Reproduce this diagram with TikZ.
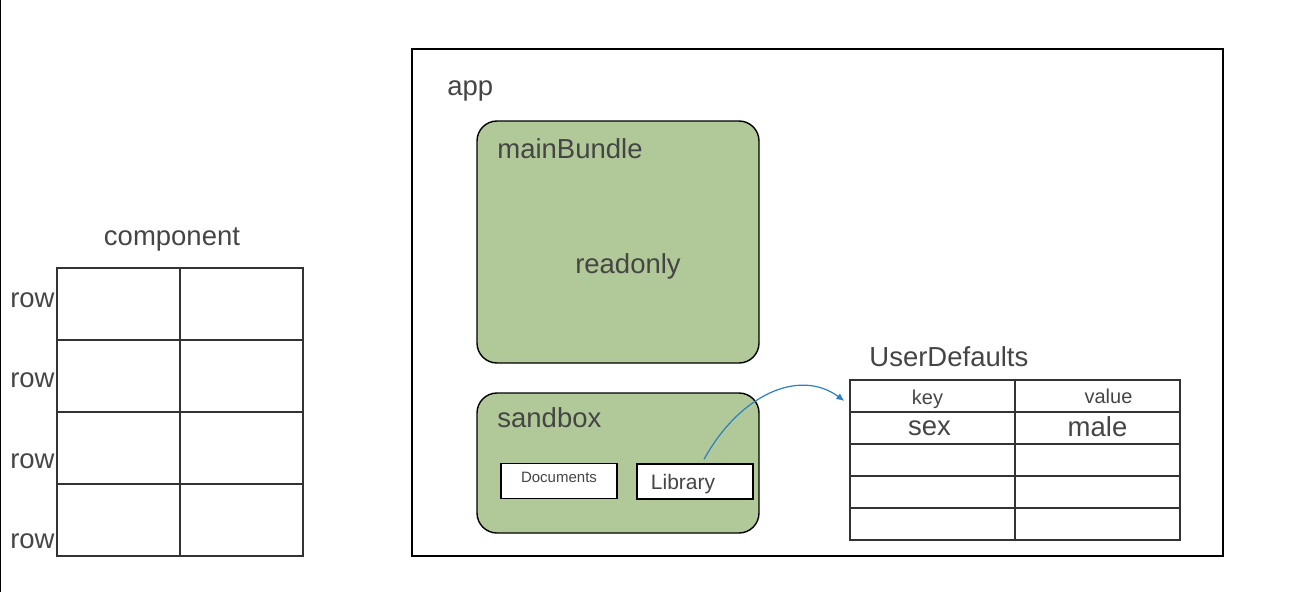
\documentclass[tikz,border=0pt]{standalone}
\usepackage{fontspec}
\setmainfont{Liberation Sans}
\usetikzlibrary{positioning,arrows.meta}
\definecolor{boxgreen}{HTML}{B1C898}
\definecolor{txtgray}{HTML}{454545}
\definecolor{linkblue}{HTML}{2B80C3}

\begin{document}
\begin{tikzpicture}[x=0.5pt,y=-0.5pt]
\fontsize{13.75}{16}\selectfont
\tikzstyle{cell} = [draw=black!80, line width=0.6pt, minimum width=61.5pt, minimum height=36pt, inner sep=0pt]
\tikzstyle{udcell} = [draw=black!80, line width=0.6pt, minimum width=82.5pt, minimum height=16pt, inner sep=0pt, text=txtgray]
\tikzstyle{greenbox} = [draw=black, line width=0.7pt, fill=boxgreen, rounded corners=10pt, inner sep=0pt]
\tikzstyle{folder} = [draw=black, line width=0.7pt, fill=white, minimum width=58pt, minimum height=17.5pt, inner sep=0pt, text=txtgray]
\tikzstyle{label} = [text=txtgray, inner sep=0pt]
\useasboundingbox (0,0) rectangle (1296,605);
% left edge
\draw[line width=0.8pt] (0.5,0) -- (0.5,592);
% component
\node [label] (comp) at (172,239) {component};
\draw
(118.5,304) node [cell] (c11) {}
(241.5,304) node [cell] (c12) {}
(118.5,376) node [cell] (c21) {}
(241.5,376) node [cell] (c22) {}
(118.5,448) node [cell] (c31) {}
(241.5,448) node [cell] (c32) {}
(118.5,520) node [cell] (c41) {}
(241.5,520) node [cell] (c42) {};
\node [label, anchor=east] (r1) at (55,300) {row};
\node [label, anchor=east] (r2) at (55,380) {row};
\node [label, anchor=east] (r3) at (55,461) {row};
\node [label, anchor=east] (r4) at (55,541) {row};
% app
\draw[line width=0.7pt] (412,49) rectangle (1223,556);
\node [label, anchor=west] (app) at (447,91) {app};
\draw[greenbox] (477,121) rectangle (759,363);
\node [label, anchor=west] (mb) at (497,149) {mainBundle};
\node [label] (ro) at (628,266) {readonly};
\draw[greenbox] (477,393) rectangle (759,533);
\node [label, anchor=west] (sb) at (497,418) {sandbox};
\node [folder, font=\fontsize{7.5}{9}\selectfont] (docs) at (559,481) {\raisebox{3.5pt}{Documents}};
\node [folder, font=\fontsize{10.5}{12}\selectfont] (lib) at (695,481.5) {\hspace*{-12pt}\raisebox{-4pt}[0pt][0pt]{Library}};
% UserDefaults
\node [label, anchor=west] (ud) at (869,357) {UserDefaults};
\draw
(932.5,396) node [udcell, font=\fontsize{10}{12}\selectfont] (u11) {\raisebox{-4pt}[0pt][0pt]{key}\hspace*{5pt}}
(1097.5,396) node [udcell, font=\fontsize{10}{12}\selectfont] (u12) {\hspace*{11pt}value}
(932.5,428) node [udcell] (u21) {\hspace*{-3pt}sex}
(1097.5,428) node [udcell] (u22) {\raisebox{1pt}{male}}
(932.5,460) node [udcell] (u31) {}
(1097.5,460) node [udcell] (u32) {}
(932.5,492) node [udcell] (u41) {}
(1097.5,492) node [udcell] (u42) {}
(932.5,524) node [udcell] (u51) {}
(1097.5,524) node [udcell] (u52) {};
\draw[linkblue, line width=0.6pt, -{Latex[length=4pt,width=3.5pt]}] ([xshift=4.5pt,yshift=2pt]lib.north) .. controls +(36,-65) and +(-45,-33) .. ([xshift=-2.5pt,yshift=-2.5pt]u11.west);
\end{tikzpicture}
\end{document}
